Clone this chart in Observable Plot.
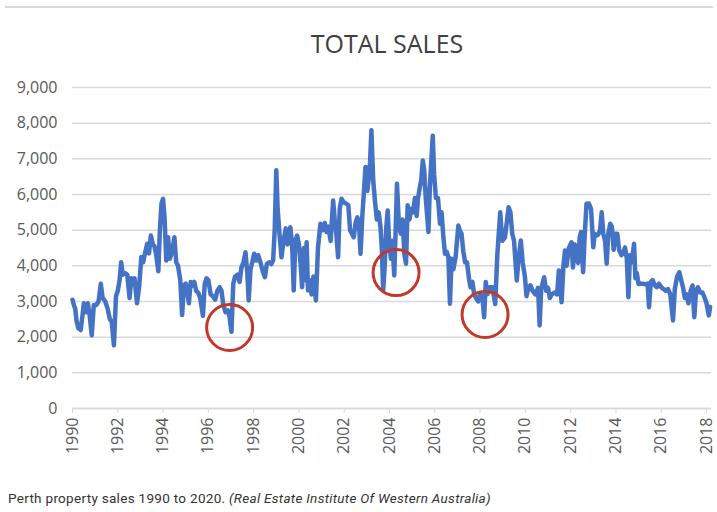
<!DOCTYPE html>
<html><head><meta charset="utf-8">
<script src="https://cdn.jsdelivr.net/npm/d3@7"></script>
<script src="https://cdn.jsdelivr.net/npm/@observablehq/plot@0.6"></script>
<style>
body{margin:0;background:#fff;width:717px;height:512px;overflow:hidden;position:relative;font-family:"Open Sans",sans-serif;}
#rule{position:absolute;left:5px;top:6px;width:708px;height:2px;background:#d9d9d9;}
#title{position:absolute;left:64px;top:26px;width:646px;text-align:center;font-size:25px;line-height:34px;color:#404040;font-family:"Open Sans",sans-serif;}
#chart{position:absolute;left:0;top:65px;}
#caption{position:absolute;left:8px;top:489px;font-family:Roboto,sans-serif;font-size:13.5px;letter-spacing:0.3px;line-height:18px;color:#333;white-space:nowrap;}
</style></head>
<body>
<div id="rule"></div>
<div id="title">TOTAL SALES</div>
<div id="chart"></div>
<div id="caption">Perth property sales 1990 to 2020. <i>(Real Estate Institute Of Western Australia)</i></div>
<script>
const years = [
1990.00,1990.06,1990.12,1990.18,1990.26,1990.36,1990.45,1990.50,1990.60,1990.68,1990.76,1990.85,1990.94,
1991.05,1991.15,1991.25,1991.33,1991.45,1991.55,1991.65,1991.73,1991.83,1991.92,
1992.00,1992.08,1992.15,1992.22,1992.32,1992.42,1992.52,1992.60,1992.68,1992.74,1992.85,1992.95,
1993.04,1993.12,1993.20,1993.30,1993.38,1993.46,1993.55,1993.62,1993.70,1993.79,1993.86,1993.93,
1994.00,1994.07,1994.14,1994.22,1994.30,1994.40,1994.50,1994.58,1994.66,1994.76,1994.84,1994.92,
1995.00,1995.08,1995.14,1995.22,1995.30,1995.38,1995.46,1995.55,1995.64,1995.76,1995.84,1995.92,
1996.00,1996.10,1996.20,1996.30,1996.40,1996.50,1996.58,1996.66,1996.76,1996.86,1996.94,
1997.02,1997.10,1997.18,1997.28,1997.38,1997.46,1997.55,1997.64,1997.72,1997.78,1997.86,1997.94,
1998.02,1998.12,1998.20,1998.30,1998.40,1998.50,1998.58,1998.68,1998.78,1998.86,1998.93,
1999.00,1999.06,1999.14,1999.23,1999.32,1999.42,1999.50,1999.62,1999.70,1999.77,1999.84,1999.92,
2000.00,2000.08,2000.14,2000.22,2000.28,2000.34,2000.40,2000.48,2000.56,2000.64,2000.75,2000.84,2000.95,
2001.05,2001.14,2001.22,2001.30,2001.40,2001.51,2001.58,2001.65,2001.73,2001.80,2001.88,2001.98,
2002.08,2002.18,2002.26,2002.34,2002.42,2002.50,2002.58,2002.65,2002.72,2002.80,2002.87,2002.94,
2003.02,2003.10,2003.14,2003.20,2003.28,2003.36,2003.44,2003.52,2003.60,2003.66,2003.72,2003.78,2003.86,2003.92,2003.98,
2004.06,2004.12,2004.21,2004.29,2004.33,2004.42,2004.50,2004.58,2004.66,2004.73,2004.80,2004.88,2004.96,
2005.04,2005.12,2005.20,2005.26,2005.34,2005.40,2005.47,2005.53,2005.60,2005.72,2005.78,2005.91,2005.97,
2006.05,2006.14,2006.23,2006.30,2006.38,2006.45,2006.52,2006.60,2006.67,2006.74,2006.82,2006.92,
2007.04,2007.10,2007.18,2007.26,2007.34,2007.42,2007.52,2007.58,2007.66,2007.74,2007.82,2007.92,
2008.00,2008.10,2008.18,2008.25,2008.32,2008.42,2008.54,2008.67,2008.76,2008.89,2008.98,
2009.10,2009.26,2009.34,2009.42,2009.50,2009.62,2009.70,2009.80,2009.88,2009.98,
2010.05,2010.14,2010.22,2010.32,2010.44,2010.56,2010.63,2010.70,2010.83,2010.92,
2011.00,2011.08,2011.16,2011.30,2011.40,2011.48,2011.60,2011.68,2011.75,2011.82,2011.92,
2012.04,2012.10,2012.18,2012.26,2012.33,2012.40,2012.46,2012.55,2012.62,2012.70,2012.80,2012.90,
2013.00,2013.06,2013.14,2013.22,2013.30,2013.37,2013.44,2013.52,2013.59,2013.66,2013.75,2013.82,2013.90,2013.98,
2014.06,2014.14,2014.24,2014.32,2014.40,2014.48,2014.55,2014.62,2014.70,2014.80,2014.86,2014.92,
2015.00,2015.10,2015.20,2015.30,2015.40,2015.46,2015.54,2015.62,2015.72,2015.80,2015.90,
2016.00,2016.10,2016.20,2016.30,2016.40,2016.52,2016.60,2016.70,2016.80,2016.88,2016.96,
2017.04,2017.12,2017.20,2017.30,2017.38,2017.46,2017.54,2017.62,2017.72,2017.82,2017.92,
2018.00,2018.10,2018.16
];
const sales = [
3050,2900,2800,2450,2250,2200,2650,2950,2700,2950,2600,2050,2900,
2900,3000,3500,3100,3000,2800,2500,2450,1770,3150,
3300,3600,4100,3750,3800,3750,3100,3650,3500,3650,2950,3450,
4250,4100,4350,4620,4350,4850,4600,4550,4300,3850,5000,5750,
5880,5300,4150,4800,4200,4400,4800,4100,4000,3600,2620,3450,
3500,3200,2950,3550,3450,3550,3300,3250,3100,2600,3500,3650,
3600,3200,3150,3050,3300,3400,3300,2900,2700,2750,2550,
2150,3500,3700,3750,3550,3950,4100,4380,3800,3030,3900,4100,
4340,4150,4300,4100,3850,3680,4050,4100,4050,4150,5000,
6680,5600,4900,4240,4700,5050,4600,5080,4600,3310,4700,4850,
4600,4000,3400,4500,3600,4660,3310,3600,3200,3700,3030,4500,5180,
5000,5200,4950,5100,4700,5830,5300,4900,4240,5600,5880,5780,
5750,5700,5000,4900,4800,5200,5360,5200,4340,5400,6070,6770,
6100,6550,6900,7800,6400,5800,5300,5500,5100,4500,3310,3900,5100,5550,4700,
4200,4700,3730,5400,6300,5100,4900,5300,4300,4060,5700,5300,5600,
5500,5900,5400,5900,6200,6400,6950,6700,5900,4950,6200,7650,6550,
5900,5900,5180,5500,4800,4340,4400,4250,2940,4200,3900,4250,
5130,5000,4900,4400,4100,4100,3600,3400,3550,3200,3100,3000,
3200,3150,2560,3550,3200,3400,3400,2930,4300,5500,4700,
4800,5640,5500,4900,4700,3590,4200,4710,4100,3700,
3150,3400,3450,3300,3200,3380,2330,3350,3680,3300,
3380,3100,3200,3250,3200,3870,2980,4000,4430,4000,4500,
4660,3950,4600,4250,4080,4800,4950,3820,4850,5740,5750,5600,
4520,4900,4850,4880,5000,5500,4900,4700,4060,4900,5180,5100,4450,4900,
4900,4450,4300,4350,4520,4200,3120,4300,4100,4620,3650,3800,
3490,3500,3500,3480,3500,2840,3550,3600,3450,3400,3500,
3400,3350,3300,3350,3200,2470,3350,3700,3820,3600,3400,
3100,3200,2950,3300,3450,2560,3300,3400,3250,3250,3100,
2950,2610,2850
];
const circleYears = [1996.94, 2004.29, 2008.22];
const circleSales = [2270, 3810, 2635];
const yTicks = [0,1000,2000,3000,4000,5000,6000,7000,8000,9000];
const xTicks = [1990,1992,1994,1996,1998,2000,2002,2004,2006,2008,2010,2012,2014,2016,2018];

const data = years.map((y,i)=>({year:y, sales:sales[i]}));
const circles = circleYears.map((y,i)=>({year:y, sales:circleSales[i]}));

const chart = Plot.plot({
  width:717, height:410,
  marginTop:22, marginBottom:67, marginLeft:72, marginRight:6,
  x:{domain:[1990,2018.22], label:null},
  y:{domain:[0,9000], label:null},
  style:{fontFamily:"'Open Sans',sans-serif", fontSize:"16px", color:"#595959", background:"transparent"},
  marks:[
    Plot.gridY(yTicks,{stroke:"#d9d9d9",strokeOpacity:1,strokeWidth:1.5}),
    Plot.axisY(yTicks,{tickSize:0,tickPadding:15,tickFormat:d3.format(","),fill:"#595959",fontSize:16}),
    Plot.ruleY([0],{stroke:"#d9d9d9",strokeWidth:1.5}),
    Plot.axisX(xTicks,{tickRotate:-90,tickSize:5,tickPadding:4,stroke:"#d9d9d9",strokeOpacity:1,tickFormat:d=>String(d),fill:"#595959",fontSize:16}),
    Plot.line(data,{x:"year",y:"sales",stroke:"#4472C4",strokeWidth:4.5,strokeLinejoin:"round",strokeLinecap:"round"}),
    Plot.dot(circles,{x:"year",y:"sales",r:23,stroke:"#C0392B",strokeWidth:3,fill:"none"})
  ]
});
document.getElementById("chart").appendChild(chart);
</script>
</body></html>
